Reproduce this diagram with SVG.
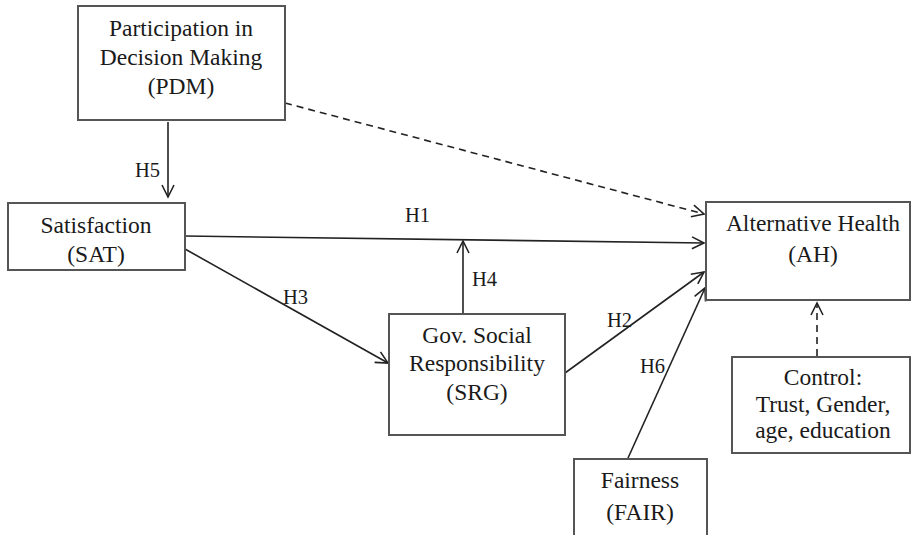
<svg xmlns="http://www.w3.org/2000/svg" width="911" height="535" viewBox="0 0 911 535">
<style>
.box{fill:#fff;stroke:#555;stroke-width:2}
.t{font-family:'Liberation Serif','DejaVu Serif',serif;font-size:23.5px;fill:#1a1a1a;text-anchor:middle}
.lbl{font-family:'Liberation Serif','DejaVu Serif',serif;font-size:20.5px;fill:#1a1a1a}
.ln{stroke:#222;stroke-width:1.6;fill:none;marker-end:url(#ah)}
.dash{stroke-dasharray:7,5}
</style>
<defs>
<marker id="ah" markerUnits="userSpaceOnUse" markerWidth="16" markerHeight="16" refX="13" refY="7" orient="auto">
<path d="M1,1 L13,7 L1,13" fill="none" stroke="#222" stroke-width="1.6"/>
</marker>
</defs>
<rect width="911" height="535" fill="#fff"/>
<g id="connectors">
<line class="ln dash" x1="285" y1="103" x2="704" y2="214"/>
<line class="ln" x1="168" y1="122" x2="168" y2="197"/>
<line class="ln" x1="185" y1="236" x2="704" y2="243"/>
<line class="ln" x1="185" y1="249" x2="388" y2="363"/>
<line class="ln" x1="463" y1="313" x2="463" y2="241"/>
<line class="ln" x1="565" y1="373" x2="704" y2="272"/>
<line class="ln" x1="628" y1="458" x2="705" y2="288"/>
<line class="ln dash" x1="817" y1="356" x2="817" y2="303"/>
<text class="lbl" x="135" y="177">H5</text>
<text class="lbl" x="405" y="222">H1</text>
<text class="lbl" x="283" y="304">H3</text>
<text class="lbl" x="472" y="286">H4</text>
<text class="lbl" x="607" y="327">H2</text>
<text class="lbl" x="640" y="373">H6</text>
</g>
<g id="PDM">
<rect class="box" x="78" y="6" width="207" height="114"/>
<text class="t" x="181" y="36">Participation in</text>
<text class="t" x="181" y="65">Decision Making</text>
<text class="t" x="181" y="94">(PDM)</text>
</g>
<g id="SAT">
<rect class="box" x="8" y="203" width="177" height="67"/>
<text class="t" x="96" y="233">Satisfaction</text>
<text class="t" x="96" y="262">(SAT)</text>
</g>
<g id="SRG">
<rect class="box" x="389" y="314" width="176" height="121"/>
<text class="t" x="477" y="343">Gov. Social</text>
<text class="t" x="477" y="371">Responsibility</text>
<text class="t" x="477" y="400">(SRG)</text>
</g>
<g id="AH">
<rect class="box" x="706" y="202" width="204" height="98"/>
<text class="t" x="813" y="231">Alternative Health</text>
<text class="t" x="813" y="262">(AH)</text>
</g>
<g id="Control">
<rect class="box" x="732" y="357" width="178" height="96"/>
<text class="t" x="823" y="385">Control:</text>
<text class="t" x="823" y="412">Trust, Gender,</text>
<text class="t" x="823" y="438">age, education</text>
</g>
<g id="FAIR">
<rect class="box" x="574" y="459" width="133" height="80"/>
<text class="t" x="640" y="488">Fairness</text>
<text class="t" x="640" y="520">(FAIR)</text>
</g>
</svg>
